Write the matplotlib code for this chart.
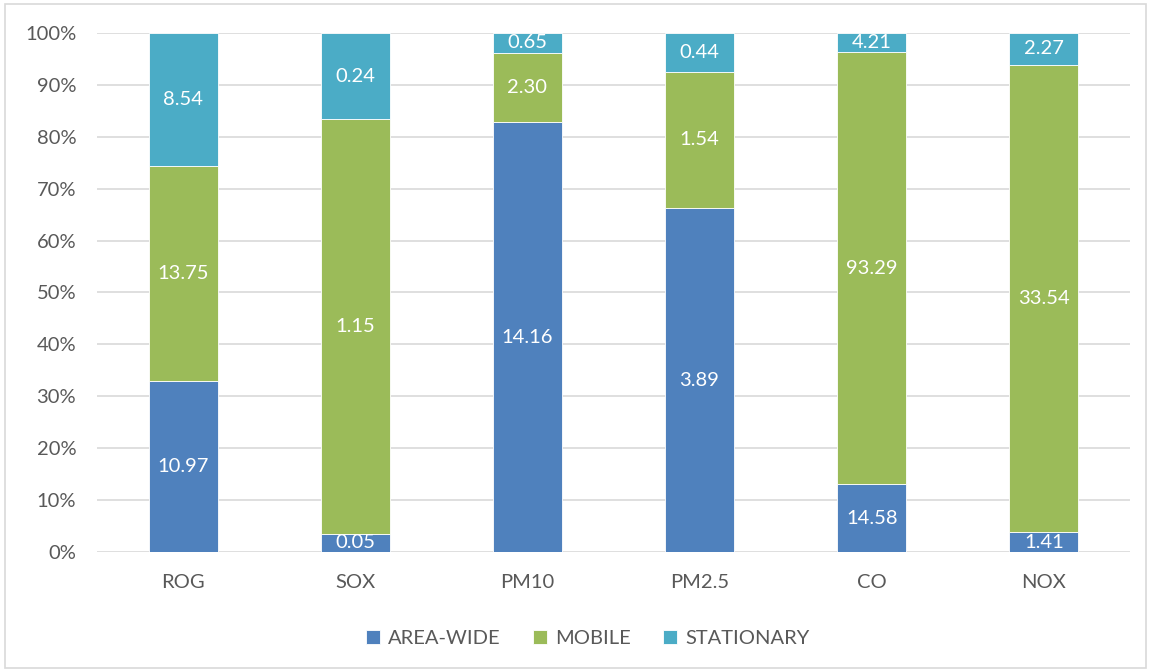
import numpy as np
import matplotlib.pyplot as plt
from matplotlib.patches import Rectangle
from matplotlib.ticker import PercentFormatter

plt.rcParams['font.family'] = ['Lato', 'DejaVu Sans']

# data
categories = ["ROG", "SOX", "PM10", "PM2.5", "CO", "NOX"]
area_wide = [10.97, 0.05, 14.16, 3.89, 14.58, 1.41]
mobile = [13.75, 1.15, 2.30, 1.54, 93.29, 33.54]
stationary = [8.54, 0.24, 0.65, 0.44, 4.21, 2.27]

series = [("AREA-WIDE", area_wide, "#4F81BD"),
          ("MOBILE", mobile, "#9BBB59"),
          ("STATIONARY", stationary, "#4BACC6")]

totals = np.array(area_wide) + np.array(mobile) + np.array(stationary)
x = np.arange(len(categories))

fig = plt.figure(figsize=(11.51, 6.72), dpi=100)
ax = fig.add_axes([0.0843, 0.1786, 0.8974, 0.7723])

bottom = np.zeros(len(categories))
for name, vals, color in series:
    share = np.array(vals) / totals * 100
    ax.bar(x, share, width=0.4, bottom=bottom, color=color, label=name,
           edgecolor="white", linewidth=0.6, zorder=3)
    for xi, b, s, v in zip(x, bottom, share, vals):
        ax.text(xi, b + s / 2, f"{v:.2f}", ha="center", va="center",
                color="white", fontsize=14.5, zorder=4)
    bottom += share

ax.set_ylim(0, 100)
ax.set_xlim(-0.5, len(categories) - 0.5)
ax.set_yticks(np.arange(0, 101, 10))
ax.yaxis.set_major_formatter(PercentFormatter(decimals=0))
ax.set_xticks(x)
ax.set_xticklabels(categories)
ax.tick_params(axis="both", length=0, labelsize=14.5, colors="#595959")
ax.tick_params(axis="x", pad=16)
ax.tick_params(axis="y", pad=15)
ax.grid(axis="y", color="#D9D9D9", linewidth=1.2, zorder=0)
for sp in ax.spines.values():
    sp.set_visible(False)

leg = ax.legend(loc="upper center", bbox_to_anchor=(0.475, -0.115), ncol=3,
                frameon=False, fontsize=14.5, handlelength=0.7, handleheight=0.7,
                columnspacing=1.6, handletextpad=0.4)
for t in leg.get_texts():
    t.set_color("#595959")

# light gray frame around the chart
fig.patches.append(Rectangle((0.004, 0.006), 0.992, 0.988, transform=fig.transFigure,
                             fill=False, edgecolor="#D9D9D9", linewidth=1.2))

plt.savefig("out.png", dpi=100)
